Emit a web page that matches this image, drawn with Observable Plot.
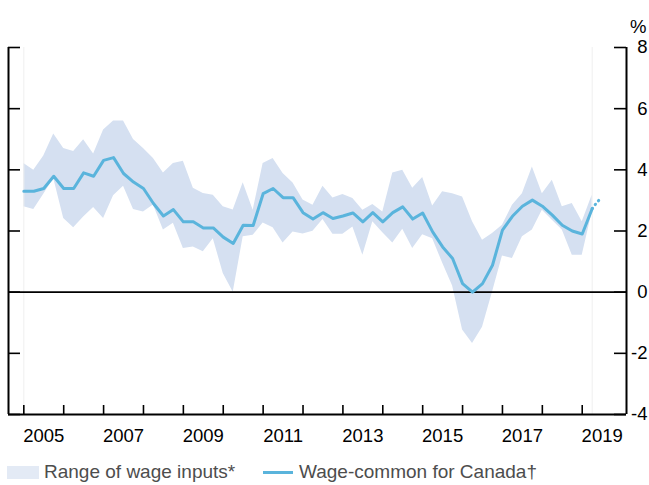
<!DOCTYPE html>
<html>
<head>
<meta charset="utf-8">
<script src="https://cdn.jsdelivr.net/npm/d3@7"></script>
<script src="https://cdn.jsdelivr.net/npm/@observablehq/plot@0.6"></script>
<style>
  body { margin: 0; background: #fff; font-family: "Liberation Sans", Arial, sans-serif; }
  #wrap { position: relative; width: 649px; height: 485px; overflow: hidden; }
  #chart { position: absolute; left: 0; top: 0; }
  .lg { position: absolute; font-size: 19px; line-height: 22px; color: #4d4d4d; white-space: nowrap; }
</style>
</head>
<body>
<div id="wrap">
  <div id="chart"></div>
  <div style="position:absolute;left:7px;top:466px;width:32px;height:13px;background:#e3eaf5"></div>
  <div class="lg" style="left:44px;top:461px">Range of wage inputs*</div>
  <div style="position:absolute;left:263px;top:471px;width:30px;height:3px;background:#5ab4dc"></div>
  <div class="lg" style="left:299px;top:461px">Wage-common for Canada†</div>
</div>
<script>
// Quarterly data, first quarter = 2005 Q1
const startYear = 2005;
const wageCommon = [
  3.30, 3.30, 3.39, 3.79,
  3.39, 3.39, 3.90, 3.79,
  4.31, 4.40, 3.88, 3.60,
  3.39, 2.90, 2.49, 2.70,
  2.30, 2.30, 2.10, 2.10,
  1.80, 1.59, 2.19, 2.18,
  3.22, 3.39, 3.09, 3.09,
  2.60, 2.39, 2.60, 2.41,
  2.49, 2.59, 2.30, 2.60,
  2.30, 2.60, 2.79, 2.39,
  2.59, 1.97, 1.48, 1.10,
  0.28, 0.00, 0.28, 0.88,
  2.03, 2.48, 2.81, 3.01,
  2.81, 2.52, 2.19, 2.00,
  1.90, 2.73
];
const rangeHigh = [
  4.21, 3.99, 4.45, 5.17,
  4.70, 4.60, 4.98, 4.52,
  5.30, 5.60, 5.60, 4.99,
  4.70, 4.37, 3.90, 4.21,
  4.28, 3.40, 3.23, 3.17,
  2.79, 2.69, 3.58, 2.68,
  4.21, 4.37, 3.88, 3.57,
  3.01, 2.84, 3.46, 3.08,
  3.19, 3.06, 2.68, 2.87,
  2.62, 3.90, 3.99, 3.40,
  3.75, 2.82, 3.28, 3.22,
  3.11, 2.30, 1.70, 1.92,
  2.19, 2.84, 3.22, 4.09,
  3.22, 3.66, 2.79, 2.90,
  2.30, 3.17
];
const rangeLow = [
  2.79, 2.70, 3.20, 3.72,
  2.41, 2.11, 2.46, 2.77,
  2.41, 3.15, 3.46, 2.70,
  2.62, 2.85, 2.03, 2.25,
  1.43, 1.48, 1.32, 1.75,
  0.61, 0.00, 1.81, 1.86,
  2.26, 2.11, 1.61, 1.97,
  1.90, 1.99, 2.38, 1.89,
  1.89, 2.13, 1.21, 2.30,
  1.94, 1.61, 2.06, 1.43,
  1.88, 1.75, 0.95, 0.20,
  -1.24, -1.68, -1.15, 0.00,
  1.18, 1.10, 1.81, 2.03,
  2.68, 2.35, 2.03, 1.21,
  1.21, 2.62
];
// Provisional (dotted) extension
const provisionalDates = [2019.25, 2019.33, 2019.42];
const provisionalValues = [2.73, 2.87, 3.01];

const yearTicks = d3.range(2005, 2020);
const yearLabels = [2005, 2007, 2009, 2011, 2013, 2015, 2017, 2019];
const yTicks = [-4, -2, 0, 2, 4, 6, 8];
const xDomain = [2004.616, 2020.11];
const yDomain = [-4, 8];

const data = wageCommon.map((v, i) => ({
  date: startYear + i / 4, v, lo: rangeLow[i], hi: rangeHigh[i]
}));
const prov = provisionalDates.map((d, i) => ({ date: d, v: provisionalValues[i] }));

const lineColor = "#5ab4dc";

const chart = Plot.plot({
  width: 649,
  height: 455,
  marginLeft: 8,
  marginRight: 23,
  marginTop: 47,
  marginBottom: 41,
  x: { domain: xDomain },
  y: { domain: yDomain },
  style: { fontFamily: "'Liberation Sans', Arial, sans-serif", fontSize: "18.5px", color: "#000", background: "transparent" },
  marks: [
    Plot.areaY(data, { x: "date", y1: "lo", y2: "hi", fill: "#d5e0f1" }),
    Plot.ruleX([data[0].date, data[data.length - 1].date], { stroke: "#efefef", strokeWidth: 1 }),
    Plot.ruleY([0], { stroke: "#000", strokeWidth: 1.8 }),
    Plot.line(data, { x: "date", y: "v", stroke: lineColor, strokeWidth: 3 }),
    Plot.line(prov, { x: "date", y: "v", stroke: lineColor, strokeWidth: 3, strokeDasharray: "0.5,4.5", strokeLinecap: "round" }),
    Plot.ruleX([xDomain[0], xDomain[1]], { stroke: "#000", strokeWidth: 2 }),
    Plot.ruleY([yDomain[0]], { stroke: "#000", strokeWidth: 2 }),
    Plot.tickY(yTicks, { y: d => d, insetRight: 606, stroke: "#000", strokeWidth: 1.6 }),
    Plot.tickY(yTicks, { y: d => d, insetLeft: 606, stroke: "#000", strokeWidth: 1.6 }),
    Plot.tickX(yearTicks, { x: d => d, insetTop: 358, stroke: "#000", strokeWidth: 1.6 }),
    Plot.axisX(yearLabels.map(y => y + 0.5), { tickSize: 0, tickPadding: 14, tickFormat: d => String(Math.floor(d)), label: null }),
    Plot.axisY(yTicks, { anchor: "right", tickSize: 0, tickPadding: 21, textAnchor: "end", tickFormat: d => String(d), label: null }),
    Plot.text(["%"], { frameAnchor: "top-right", dx: 20, dy: -28, textAnchor: "end", fill: "#000" })
  ]
});
document.getElementById("chart").appendChild(chart);
</script>
</body>
</html>
